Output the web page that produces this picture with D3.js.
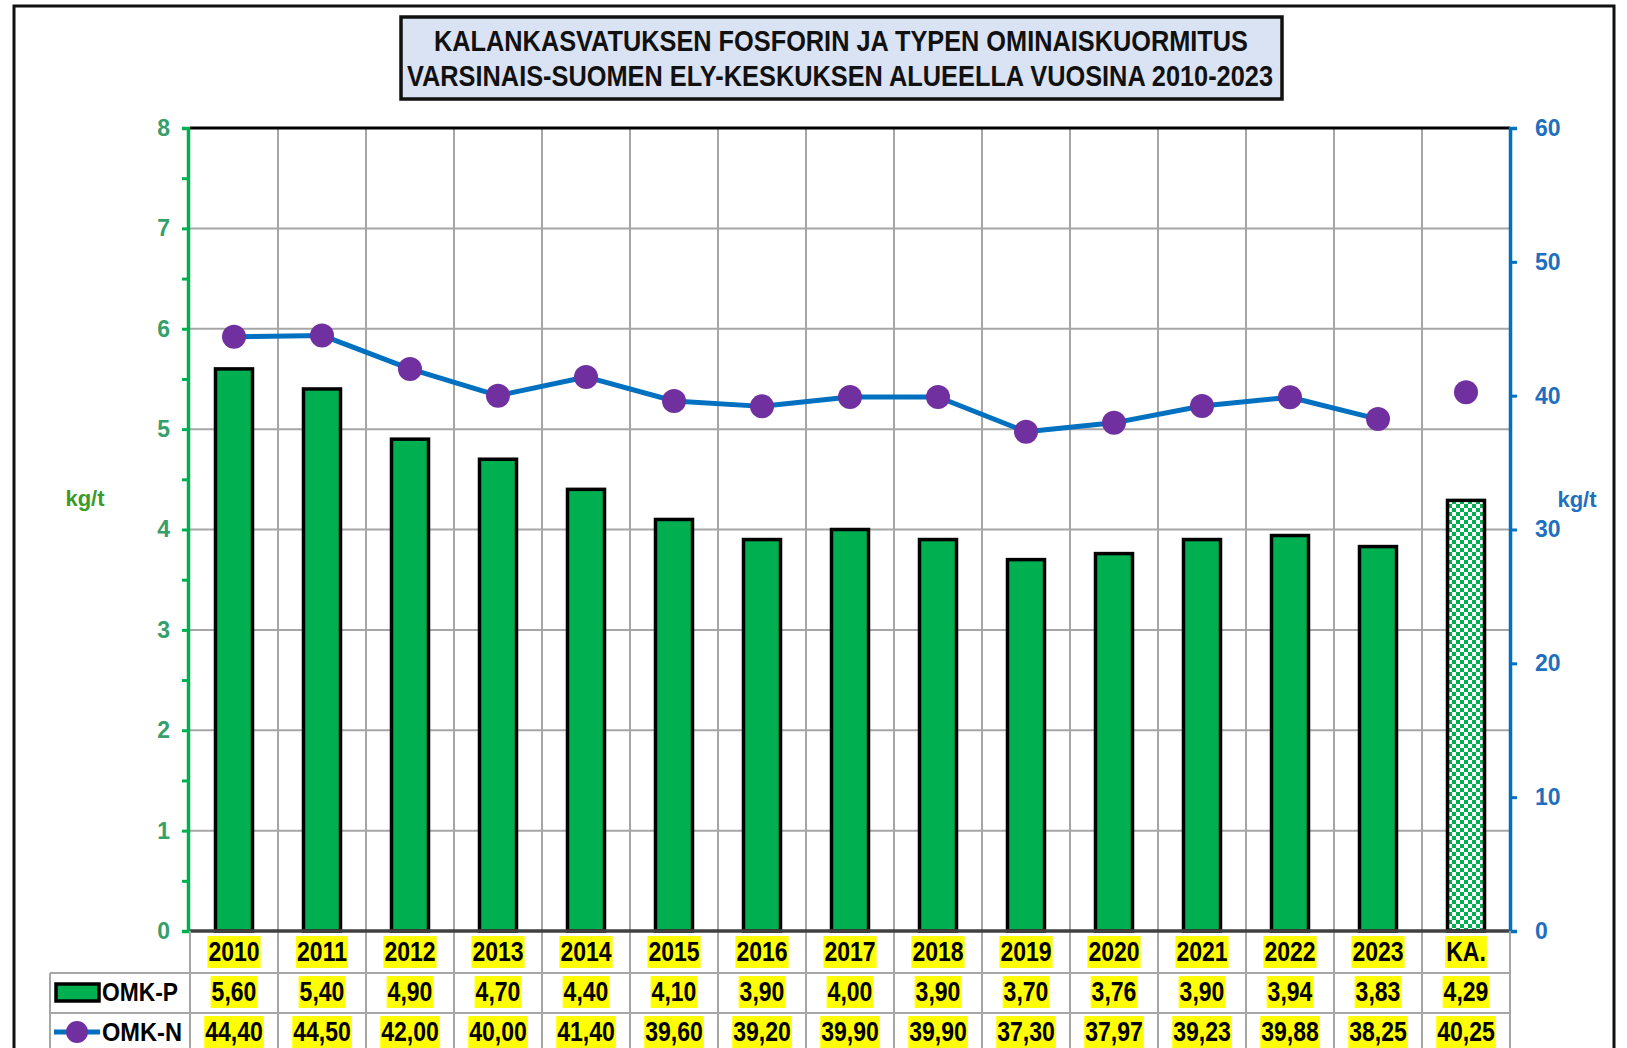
<!DOCTYPE html>
<html>
<head>
<meta charset="utf-8">
<script src="https://cdn.jsdelivr.net/npm/d3@7"></script>
<style>
html,body{margin:0;padding:0;background:#fff;}
svg{display:block;}
text{font-family:"Liberation Sans",Arial,sans-serif;font-weight:bold;}
</style>
</head>
<body>
<svg id="chart" width="1627" height="1048"></svg>
<script>
// ---- data ----
const categories = ["2010","2011","2012","2013","2014","2015","2016","2017","2018","2019","2020","2021","2022","2023","KA."];
const omkP = [5.60,5.40,4.90,4.70,4.40,4.10,3.90,4.00,3.90,3.70,3.76,3.90,3.94,3.83,4.29];
const omkN = [44.40,44.50,42.00,40.00,41.40,39.60,39.20,39.90,39.90,37.30,37.97,39.23,39.88,38.25,40.25];
const labelsP = ["5,60","5,40","4,90","4,70","4,40","4,10","3,90","4,00","3,90","3,70","3,76","3,90","3,94","3,83","4,29"];
const labelsN = ["44,40","44,50","42,00","40,00","41,40","39,60","39,20","39,90","39,90","37,30","37,97","39,23","39,88","38,25","40,25"];
const leftTicks = [0,1,2,3,4,5,6,7,8];
const rightTicks = [0,10,20,30,40,50,60];
const titleLines = ["KALANKASVATUKSEN FOSFORIN JA TYPEN OMINAISKUORMITUS","VARSINAIS-SUOMEN ELY-KESKUKSEN ALUEELLA VUOSINA 2010-2023"];
const seriesNames = ["OMK-P","OMK-N"];

// ---- layout ----
const svg = d3.select("#chart");
const L = 190, R = 1510, T = 128, B = 931;
const x = d3.scaleBand().domain(categories).range([L, R]).padding(0);
const yL = d3.scaleLinear().domain([0, 8]).range([B, T]);
const yR = d3.scaleLinear().domain([0, 60]).range([B, T]);
const bw = x.bandwidth();
const barW = 37;

const green = "#00b050", blue = "#0070c0", purple = "#7030a0", grid = "#a6a6a6";

// pattern
const defs = svg.append("defs");
const pat = defs.append("pattern").attr("id","checker").attr("patternUnits","userSpaceOnUse")
  .attr("width",8).attr("height",8);
pat.append("rect").attr("width",8).attr("height",8).attr("fill","#fff");
pat.append("rect").attr("width",4).attr("height",4).attr("fill",green);
pat.append("rect").attr("x",4).attr("y",4).attr("width",4).attr("height",4).attr("fill",green);

// outer frame
svg.append("rect").attr("x",14).attr("y",6).attr("width",1600).attr("height",1100)
  .attr("fill","none").attr("stroke","#111").attr("stroke-width",3);

// title box
svg.append("rect").attr("x",401).attr("y",17).attr("width",881).attr("height",82)
  .attr("fill","#dae3f3").attr("stroke","#111").attr("stroke-width",3.5);
const tl = [{t:titleLines[0], y:51, w:814, cx:841},{t:titleLines[1], y:86, w:866, cx:840}];
tl.forEach(d=>{
  svg.append("text").attr("x",d.cx).attr("y",d.y).attr("text-anchor","middle")
    .attr("font-size",30).attr("fill","#111")
    .attr("textLength",d.w).attr("lengthAdjust","spacingAndGlyphs").text(d.t);
});

// gridlines
const gridG = svg.append("g");
gridG.selectAll("line.h").data(leftTicks.filter(v=>v>0 && v<8)).join("line")
  .attr("x1",L).attr("x2",R).attr("y1",d=>yL(d)).attr("y2",d=>yL(d))
  .attr("stroke",grid).attr("stroke-width",2);
const bounds = categories.map(c=>x(c)).slice(1);
gridG.selectAll("line.v").data(bounds).join("line")
  .attr("x1",d=>d).attr("x2",d=>d).attr("y1",T).attr("y2",1048)
  .attr("stroke",grid).attr("stroke-width",2);

// bars
svg.append("g").selectAll("rect").data(categories).join("rect")
  .attr("x",d=>x(d)+bw/2-barW/2)
  .attr("y",(d,i)=>yL(omkP[i]))
  .attr("width",barW)
  .attr("height",(d,i)=>B-yL(omkP[i]))
  .attr("fill",(d,i)=>d==="KA." ? "url(#checker)" : green)
  .attr("stroke","#000").attr("stroke-width",3.5);

// top border & bottom axis
svg.append("line").attr("x1",L).attr("x2",R).attr("y1",T).attr("y2",T).attr("stroke","#000").attr("stroke-width",3);
svg.append("line").attr("x1",L).attr("x2",R).attr("y1",B).attr("y2",B).attr("stroke","#404040").attr("stroke-width",3.5);

// line (years only)
const years = categories.slice(0,14);
const lineGen = d3.line().x(d=>x(d)+bw/2).y((d,i)=>yR(omkN[i]));
svg.append("path").datum(years).attr("d",lineGen).attr("fill","none")
  .attr("stroke",blue).attr("stroke-width",5).attr("stroke-linejoin","round");
svg.append("g").selectAll("circle").data(categories).join("circle")
  .attr("cx",d=>x(d)+bw/2).attr("cy",(d,i)=>yR(omkN[i])).attr("r",12).attr("fill",purple);

// left axis
const axL = d3.axisLeft(yL).tickValues(d3.range(0,8.01,0.5)).tickSize(6)
  .tickFormat(d=>Number.isInteger(d)? d3.format("d")(d) : "");
const gL = svg.append("g").attr("transform",`translate(${L-2},0)`).call(axL);
gL.select(".domain").attr("stroke",green).attr("stroke-width",3.5);
gL.selectAll(".tick line").attr("stroke",green).attr("stroke-width",3);
gL.selectAll(".tick text").attr("fill","#35a06a").attr("font-size",23).attr("x",-18)
  .attr("font-family","Liberation Sans, Arial, sans-serif").attr("font-weight","bold");

// right axis
const axR = d3.axisRight(yR).tickValues(rightTicks).tickSize(7).tickFormat(d3.format("d"));
const gR = svg.append("g").attr("transform",`translate(${R},0)`).call(axR);
gR.select(".domain").attr("stroke",blue).attr("stroke-width",3.5);
gR.selectAll(".tick line").attr("stroke",blue).attr("stroke-width",3);
gR.selectAll(".tick text").attr("fill","#1f6fc0").attr("font-size",23).attr("x",25)
  .attr("font-family","Liberation Sans, Arial, sans-serif").attr("font-weight","bold");

// axis unit labels
svg.append("text").attr("x",85).attr("y",506).attr("text-anchor","middle")
  .attr("font-size",22).attr("fill","#3c9a2a").text("kg/t");
svg.append("text").attr("x",1577).attr("y",507).attr("text-anchor","middle")
  .attr("font-size",22).attr("fill","#1f6fc0").text("kg/t");

// ---- data table ----
const tbl = svg.append("g");
const rowLine1 = 973, rowLine2 = 1013;
tbl.append("line").attr("x1",50).attr("x2",R).attr("y1",rowLine1).attr("y2",rowLine1).attr("stroke",grid).attr("stroke-width",2);
tbl.append("line").attr("x1",50).attr("x2",R).attr("y1",rowLine2).attr("y2",rowLine2).attr("stroke",grid).attr("stroke-width",2);
tbl.append("line").attr("x1",50).attr("x2",50).attr("y1",rowLine1).attr("y2",1048).attr("stroke",grid).attr("stroke-width",2);
tbl.append("line").attr("x1",L).attr("x2",L).attr("y1",B).attr("y2",1048).attr("stroke",grid).attr("stroke-width",2);
tbl.append("line").attr("x1",R).attr("x2",R).attr("y1",B).attr("y2",1048).attr("stroke",grid).attr("stroke-width",2);

function highlightedRow(labels, cy){
  const g = tbl.append("g");
  labels.forEach((lab,i)=>{
    const cx = x(categories[i]) + bw/2;
    const t = g.append("text").attr("x",cx).attr("y",cy+9).attr("text-anchor","middle")
      .attr("font-size",23).attr("fill","#000").text(lab);
    const w = t.node().getComputedTextLength();
    t.attr("font-size",27).attr("textLength",w).attr("lengthAdjust","spacingAndGlyphs");
    g.insert("rect","text").attr("x",cx-w/2-1).attr("y",cy-16).attr("width",w+2).attr("height",32)
      .attr("fill","#ffff00");
  });
}
highlightedRow(categories, 952);
highlightedRow(labelsP, 992);
highlightedRow(labelsN, 1032);

// legend keys
tbl.append("rect").attr("x",56).attr("y",984).attr("width",43).attr("height",17)
  .attr("fill",green).attr("stroke","#000").attr("stroke-width",3.5);
tbl.append("text").attr("x",102).attr("y",1001).attr("font-size",25).attr("fill","#000")
  .attr("textLength",76).attr("lengthAdjust","spacingAndGlyphs").text(seriesNames[0]);
tbl.append("line").attr("x1",54).attr("x2",100).attr("y1",1032).attr("y2",1032).attr("stroke",blue).attr("stroke-width",5);
tbl.append("circle").attr("cx",77).attr("cy",1032).attr("r",11).attr("fill",purple);
tbl.append("text").attr("x",102).attr("y",1041).attr("font-size",25).attr("fill","#000")
  .attr("textLength",80).attr("lengthAdjust","spacingAndGlyphs").text(seriesNames[1]);
</script>
</body>
</html>
